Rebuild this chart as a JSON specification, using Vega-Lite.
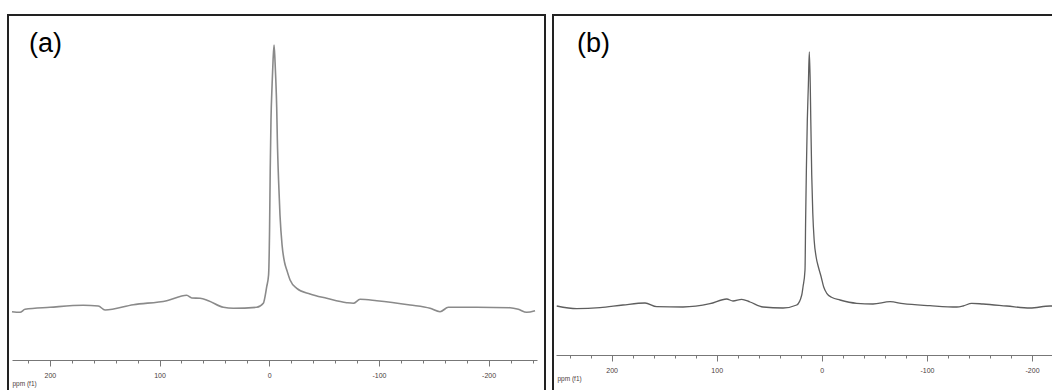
{
  "$schema": "https://vega.github.io/schema/vega-lite/v6.json",
  "padding": {"left": 7, "top": 14, "right": 0, "bottom": 0},
  "background": "#ffffff",
  "spacing": 8,
  "bounds": "flush",
  "config": {
    "view": {"stroke": "#222222", "strokeWidth": 2},
    "font": "Liberation Sans",
    "title": {"font": "Liberation Sans", "fontSize": 27, "fontWeight": "normal", "color": "#000000", "anchor": "start", "frame": "group", "baseline": "alphabetic", "offset": 0},
    "axisX": {
      "grid": false,
      "domainColor": "#777777",
      "domainWidth": 1,
      "tickColor": "#777777",
      "tickWidth": 1,
      "labelColor": "#4a3c3c",
      "labelFont": "Liberation Sans",
      "labelFontSize": 7,
      "labelPadding": 5,
      "labelOverlap": false,
      "labelFlush": false,
      "labelExpr": "datum.value % 100 === 0 ? datum.value + '' : ''",
      "tickSize": {"condition": {"test": "datum.value % 100 === 0", "value": 6}, "value": 3},
      "titleFont": "Liberation Sans",
      "titleFontSize": 6.5,
      "titleFontWeight": "normal",
      "titleColor": "#4a3c3c",
      "titleAnchor": "start",
      "titleAlign": "left",
      "titleBaseline": "middle",
      "titleX": 4,
      "titleY": 23
    }
  },
  "datasets": {
    "spectra": [
      {"panel": "a", "ppm": 234.5, "intensity": 83.3},
      {"panel": "a", "ppm": 227.2, "intensity": 82.7},
      {"panel": "a", "ppm": 222.6, "intensity": 85.7},
      {"panel": "a", "ppm": 199.8, "intensity": 87.7},
      {"panel": "a", "ppm": 169.5, "intensity": 89.7},
      {"panel": "a", "ppm": 155.8, "intensity": 89.0},
      {"panel": "a", "ppm": 149.7, "intensity": 85.0},
      {"panel": "a", "ppm": 123.9, "intensity": 90.3},
      {"panel": "a", "ppm": 93.4, "intensity": 94.3},
      {"panel": "a", "ppm": 75.2, "intensity": 99.7},
      {"panel": "a", "ppm": 70.6, "intensity": 97.0},
      {"panel": "a", "ppm": 63.1, "intensity": 96.7},
      {"panel": "a", "ppm": 55.5, "intensity": 94.3},
      {"panel": "a", "ppm": 41.8, "intensity": 87.7},
      {"panel": "a", "ppm": 32.7, "intensity": 86.7},
      {"panel": "a", "ppm": 11.4, "intensity": 87.7},
      {"panel": "a", "ppm": 5.4, "intensity": 91.7},
      {"panel": "a", "ppm": 2.3, "intensity": 108.3},
      {"panel": "a", "ppm": 0.6, "intensity": 120},
      {"panel": "a", "ppm": -0.3, "intensity": 165},
      {"panel": "a", "ppm": -0.9, "intensity": 225},
      {"panel": "a", "ppm": -1.6, "intensity": 275},
      {"panel": "a", "ppm": -2.6, "intensity": 310},
      {"panel": "a", "ppm": -3.5, "intensity": 335},
      {"panel": "a", "ppm": -4.4, "intensity": 350},
      {"panel": "a", "ppm": -5.3, "intensity": 333},
      {"panel": "a", "ppm": -6.0, "intensity": 315},
      {"panel": "a", "ppm": -6.8, "intensity": 288},
      {"panel": "a", "ppm": -7.4, "intensity": 255},
      {"panel": "a", "ppm": -8.5, "intensity": 215},
      {"panel": "a", "ppm": -9.8, "intensity": 180},
      {"panel": "a", "ppm": -11.7, "intensity": 150},
      {"panel": "a", "ppm": -13.9, "intensity": 133},
      {"panel": "a", "ppm": -16.0, "intensity": 125},
      {"panel": "a", "ppm": -19.0, "intensity": 115},
      {"panel": "a", "ppm": -25.1, "intensity": 106.7},
      {"panel": "a", "ppm": -37.2, "intensity": 101},
      {"panel": "a", "ppm": -52.4, "intensity": 96.7},
      {"panel": "a", "ppm": -70.6, "intensity": 92.3},
      {"panel": "a", "ppm": -76.7, "intensity": 91.7},
      {"panel": "a", "ppm": -82.8, "intensity": 95.7},
      {"panel": "a", "ppm": -98.0, "intensity": 94.3},
      {"panel": "a", "ppm": -128.4, "intensity": 90},
      {"panel": "a", "ppm": -146.6, "intensity": 86.7},
      {"panel": "a", "ppm": -155.7, "intensity": 83.3},
      {"panel": "a", "ppm": -163.3, "intensity": 87.7},
      {"panel": "a", "ppm": -189.2, "intensity": 87.7},
      {"panel": "a", "ppm": -219.5, "intensity": 87.3},
      {"panel": "a", "ppm": -227.1, "intensity": 85.7},
      {"panel": "a", "ppm": -234.7, "intensity": 82.7},
      {"panel": "a", "ppm": -242.3, "intensity": 84.3},

      {"panel": "b", "ppm": 252.2, "intensity": 89},
      {"panel": "b", "ppm": 233.2, "intensity": 86.3},
      {"panel": "b", "ppm": 211.0, "intensity": 87.3},
      {"panel": "b", "ppm": 189.2, "intensity": 90},
      {"panel": "b", "ppm": 168.2, "intensity": 92},
      {"panel": "b", "ppm": 157.1, "intensity": 88.3},
      {"panel": "b", "ppm": 132.1, "intensity": 88},
      {"panel": "b", "ppm": 106.4, "intensity": 91.3},
      {"panel": "b", "ppm": 90.5, "intensity": 96},
      {"panel": "b", "ppm": 84.5, "intensity": 94},
      {"panel": "b", "ppm": 76.2, "intensity": 95.7},
      {"panel": "b", "ppm": 68.3, "intensity": 93},
      {"panel": "b", "ppm": 55.9, "intensity": 88},
      {"panel": "b", "ppm": 36.9, "intensity": 87},
      {"panel": "b", "ppm": 23.9, "intensity": 90},
      {"panel": "b", "ppm": 19.1, "intensity": 100},
      {"panel": "b", "ppm": 17.9, "intensity": 108},
      {"panel": "b", "ppm": 16.0, "intensity": 125},
      {"panel": "b", "ppm": 15.4, "intensity": 175},
      {"panel": "b", "ppm": 14.7, "intensity": 225},
      {"panel": "b", "ppm": 13.8, "intensity": 275},
      {"panel": "b", "ppm": 12.8, "intensity": 310},
      {"panel": "b", "ppm": 11.9, "intensity": 343},
      {"panel": "b", "ppm": 11.0, "intensity": 310},
      {"panel": "b", "ppm": 10.5, "intensity": 275},
      {"panel": "b", "ppm": 9.6, "intensity": 220},
      {"panel": "b", "ppm": 8.6, "intensity": 182},
      {"panel": "b", "ppm": 7.3, "intensity": 155},
      {"panel": "b", "ppm": 5.4, "intensity": 138},
      {"panel": "b", "ppm": 3.0, "intensity": 127},
      {"panel": "b", "ppm": 0.6, "intensity": 118},
      {"panel": "b", "ppm": -1.8, "intensity": 108},
      {"panel": "b", "ppm": -4.7, "intensity": 101.7},
      {"panel": "b", "ppm": -9.7, "intensity": 97.5},
      {"panel": "b", "ppm": -17.3, "intensity": 95},
      {"panel": "b", "ppm": -33.2, "intensity": 91.7},
      {"panel": "b", "ppm": -48.7, "intensity": 91},
      {"panel": "b", "ppm": -64.9, "intensity": 93.3},
      {"panel": "b", "ppm": -77.3, "intensity": 91.3},
      {"panel": "b", "ppm": -102.9, "intensity": 89.3},
      {"panel": "b", "ppm": -128.4, "intensity": 88},
      {"panel": "b", "ppm": -134.4, "intensity": 89},
      {"panel": "b", "ppm": -142.6, "intensity": 91.7},
      {"panel": "b", "ppm": -153.4, "intensity": 91},
      {"panel": "b", "ppm": -175.9, "intensity": 89},
      {"panel": "b", "ppm": -198.1, "intensity": 87},
      {"panel": "b", "ppm": -217.1, "intensity": 89},
      {"panel": "b", "ppm": -224.7, "intensity": 89}
    ]
  },
  "hconcat": [
    {
      "title": {"text": "(a)", "dx": 21, "dy": 47},
      "width": 537,
      "height": 380,
      "data": {"name": "spectra"},
      "transform": [{"filter": "datum.panel === 'a'"}],
      "mark": {"type": "line", "color": "#8a8a8a", "strokeWidth": 1.6, "strokeJoin": "round", "interpolate": "monotone"},
      "encoding": {
        "x": {
          "field": "ppm",
          "type": "quantitative",
          "scale": {"domain": [-244.1, 234.5], "reverse": true, "range": [4, 529], "nice": false, "zero": false},
          "axis": {
            "title": "ppm (f1)",
            "offset": -35,
            "values": [-240, -220, -200, -180, -160, -140, -120, -100, -80, -60, -40, -20, 0, 20, 40, 60, 80, 100, 120, 140, 160, 180, 200, 220]
          }
        },
        "y": {
          "field": "intensity",
          "type": "quantitative",
          "scale": {"domain": [0, 380], "nice": false, "zero": false},
          "axis": null
        }
      }
    },
    {
      "title": {"text": "(b)", "dx": 24, "dy": 47},
      "width": 505,
      "height": 380,
      "data": {"name": "spectra"},
      "transform": [{"filter": "datum.panel === 'b'"}],
      "mark": {"type": "line", "color": "#5e5e5e", "strokeWidth": 1.3, "strokeJoin": "round", "interpolate": "monotone"},
      "encoding": {
        "x": {
          "field": "ppm",
          "type": "quantitative",
          "scale": {"domain": [-224.7, 252.9], "reverse": true, "range": [3, 505], "nice": false, "zero": false},
          "axis": {
            "title": "ppm (f1)",
            "offset": -40,
            "values": [-220, -200, -180, -160, -140, -120, -100, -80, -60, -40, -20, 0, 20, 40, 60, 80, 100, 120, 140, 160, 180, 200, 220, 240]
          }
        },
        "y": {
          "field": "intensity",
          "type": "quantitative",
          "scale": {"domain": [0, 380], "nice": false, "zero": false},
          "axis": null
        }
      }
    }
  ]
}
